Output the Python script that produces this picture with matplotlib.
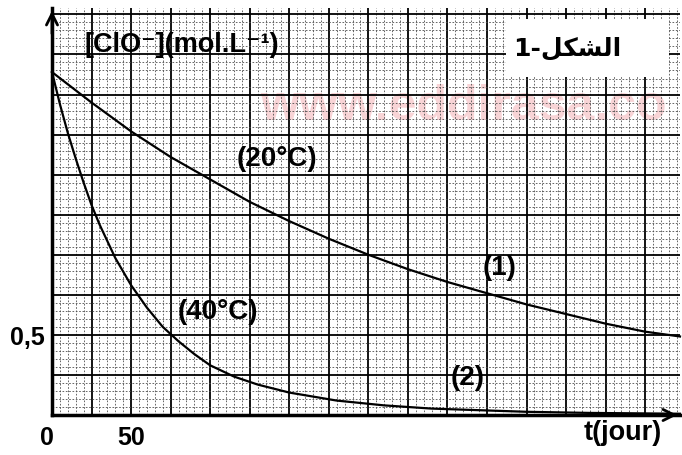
import matplotlib
matplotlib.use("Agg")
import matplotlib.pyplot as plt
from matplotlib.patches import Rectangle
from matplotlib.ticker import MultipleLocator

# ---- data ----
t_20 = [0, 25, 50, 75, 100, 125, 150, 175, 200, 225, 250, 275, 300, 325, 350, 375, 397]
c_20 = [2.14, 1.95, 1.77, 1.61, 1.47, 1.33, 1.21, 1.10, 1.00, 0.91, 0.83, 0.76, 0.69, 0.63, 0.57, 0.52, 0.49]

t_40 = [0, 5, 10, 15, 20, 25, 30, 40, 50, 60, 70, 80, 90, 100, 115, 130, 150, 165, 180, 210, 240, 270, 300, 340, 397]
c_40 = [2.14, 1.94, 1.76, 1.60, 1.45, 1.31, 1.19, 0.98, 0.81, 0.67, 0.55, 0.46, 0.38, 0.31, 0.24, 0.19, 0.14, 0.115,
        0.09, 0.06, 0.04, 0.03, 0.02, 0.013, 0.008]

y_tick_value = [0.5]
y_tick_label = ["0,5"]
x_tick_value = [0, 50]
x_tick_label = ["0", "50"]

ylabel = "[ClO\u207b](mol.L\u207b\u00b9)"
xlabel = "t(jour)"
curve_labels = ["(20°C)", "(1)", "(40°C)", "(2)"]
# Arabic "الشكل-1" written in presentation forms, visual order
fig_title = "1-\ufede\ufedc\ufeb8\ufedf\ufe8d"

FONT = ["Liberation Sans", "DejaVu Sans"]

fig = plt.figure(figsize=(6.82, 4.55), dpi=100)
ax = fig.add_axes([52 / 682, 40 / 455, 628 / 682, 407 / 455])
ax.set_xlim(0, 397)
ax.set_ylim(0, 2.54)

# graph paper grid
ax.xaxis.set_major_locator(MultipleLocator(25))
ax.yaxis.set_major_locator(MultipleLocator(0.25))
ax.xaxis.set_minor_locator(MultipleLocator(5))
ax.yaxis.set_minor_locator(MultipleLocator(0.05))
ax.grid(which="major", color="black", linewidth=1.3, zorder=1)
ax.grid(which="minor", color="0.3", linewidth=0.6, linestyle=(0, (2, 2)), zorder=1)
ax.set_axisbelow(True)
ax.tick_params(which="both", length=0, labelbottom=False, labelleft=False)

for s in ["top", "right"]:
    ax.spines[s].set_visible(False)
for s in ["left", "bottom"]:
    ax.spines[s].set_linewidth(2.5)

# watermark
ax.text(0.655, 0.757, "www.eddirasa.co", transform=ax.transAxes, ha="center", va="center",
        fontsize=36, fontweight="bold", color="#f0a0a6", alpha=0.45, family=FONT, zorder=0.5)

# curves
ax.plot(t_20, c_20, color="black", linewidth=1.6, zorder=3, clip_on=False)
ax.plot(t_40, c_40, color="black", linewidth=1.6, zorder=3, clip_on=False)

# axes arrows
ax.annotate("", xy=(0, 1.0), xytext=(0, 0.93), xycoords="axes fraction",
            arrowprops=dict(arrowstyle="->", color="black", lw=2, mutation_scale=20))
ax.annotate("", xy=(1.0, 0), xytext=(0.95, 0), xycoords="axes fraction",
            arrowprops=dict(arrowstyle="->", color="black", lw=2, mutation_scale=20))

# tick labels
tp = dict(fontsize=18, fontweight="bold", family=FONT)
for v, lab in zip(y_tick_value, y_tick_label):
    ax.text(-4.5, v - 0.02, lab, ha="right", va="center", **tp)
for v, lab in zip(x_tick_value, x_tick_label):
    ax.text(v - (3 if v == 0 else 0), -0.07, lab, ha="center", va="top", **tp)

# axis labels
ax.text(82, 2.31, ylabel, ha="center", va="center", fontsize=19.5, fontweight="bold", family=FONT,
        zorder=4)
ax.text(361, -0.03, xlabel, ha="center", va="top", fontsize=19.5, fontweight="bold", family=FONT)

# curve labels
lp = dict(fontsize=20, fontweight="bold", family=FONT, ha="center", va="center", zorder=4)
ax.text(142, 1.60, curve_labels[0], **lp)
ax.text(283, 0.92, curve_labels[1], **lp)
ax.text(105, 0.64, curve_labels[2], **lp)
ax.text(263, 0.23, curve_labels[3], **lp)

# figure caption box
ax.add_patch(Rectangle((287, 2.11), 103, 0.36, facecolor="white", edgecolor="none", zorder=3))
ax.text(326, 2.285, fig_title, ha="center", va="center", fontsize=18, fontweight="bold",
        family=["DejaVu Sans"], zorder=4)

fig.savefig("out.png", dpi=100)
